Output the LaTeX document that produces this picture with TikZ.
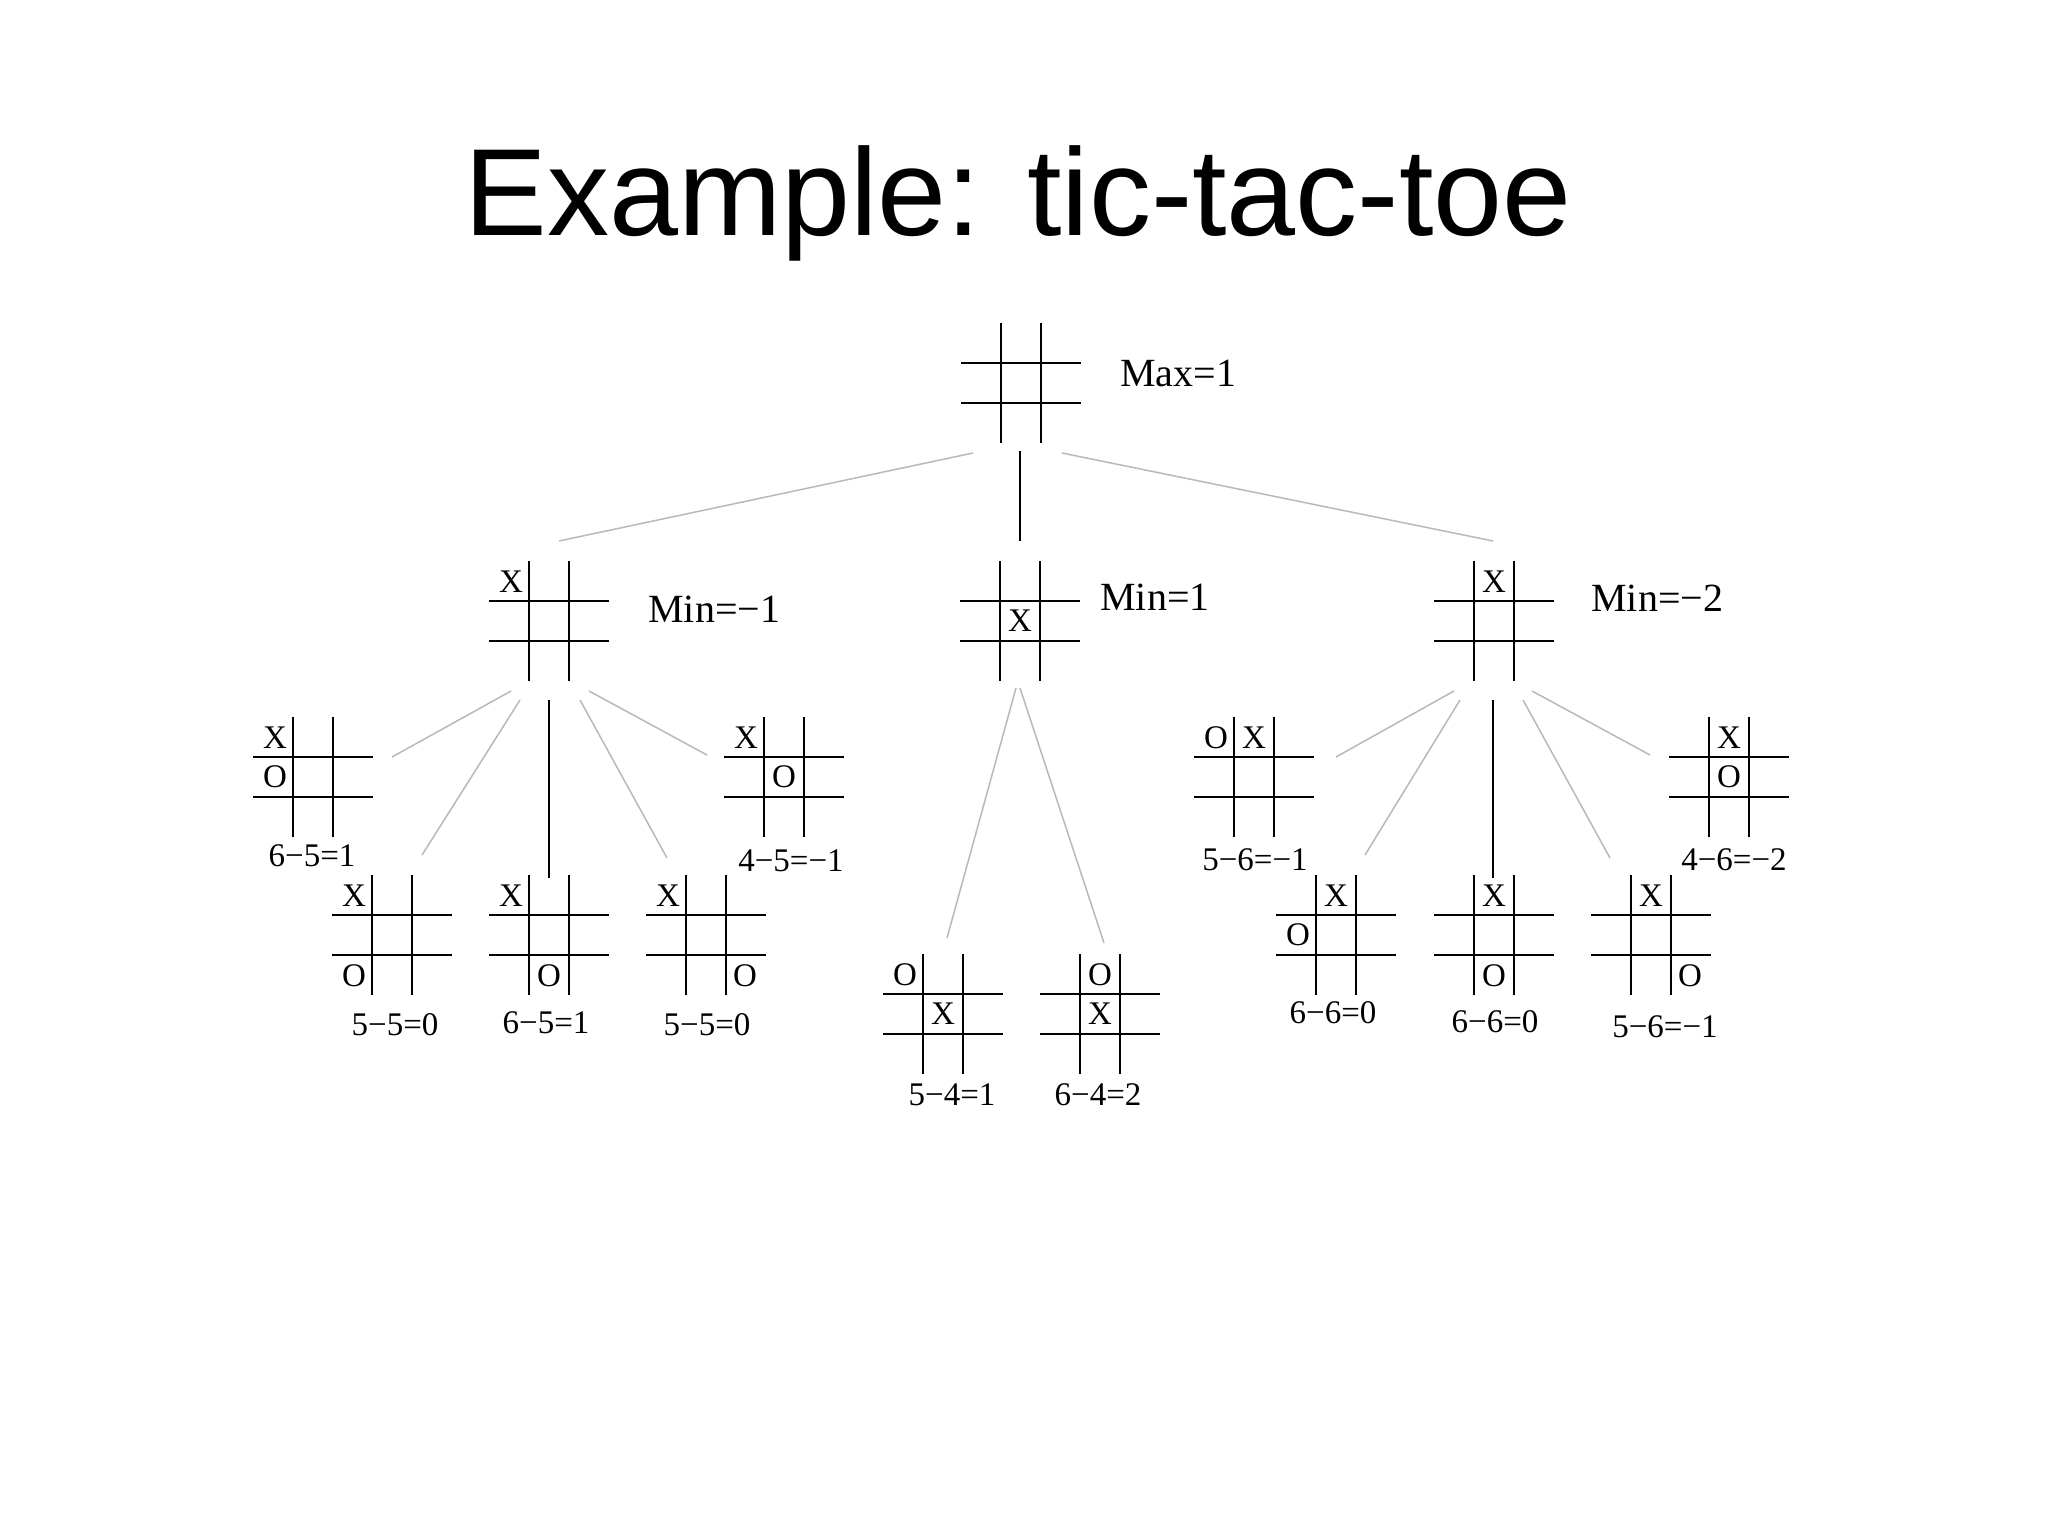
\documentclass[tikz,border=0pt]{standalone}
\usepackage{fontspec}
\setmainfont{Liberation Serif}
\newfontfamily\titlefont{Liberation Sans}
\usetikzlibrary{calc}
\definecolor{lightline}{RGB}{185,185,185}
\tikzset{
  gridline/.style={line width=1.35pt, black},
  board/.style={minimum size=60pt, inner sep=0pt, draw=none},
  markglyph/.style={font=\fontsize{16.5}{18}\selectfont, inner sep=0pt},
  score/.style={font=\fontsize{16.5}{18}\selectfont, inner sep=0pt, anchor=base},
  minmax/.style={font=\fontsize{20}{22}\selectfont, inner sep=0pt, anchor=base west},
  weak/.style={line width=0.75pt, draw=lightline},
  strong/.style={line width=1.2pt, draw=black},
}
\newcommand\tttboard[3]{%
  \node[board] (#1) at (#2,#3) {};
  \draw[gridline] ($(#1)+(-60,-20)$) -- ($(#1)+(60,-20)$)
    ($(#1)+(-60,20)$) -- ($(#1)+(60,20)$)
    ($(#1)+(-20,-60)$) -- ($(#1)+(-20,60)$)
    ($(#1)+(20,-60)$) -- ($(#1)+(20,60)$);
}
% name, board, column (l/c/r), row (t/m/b), letter
\newcommand\tttmark[5]{%
  \node[markglyph] (#1) at ($(#2)+(\csname col#3\endcsname,\csname row#4\endcsname)$) {#5};
}
\def\coll{-38}\def\colc{0}\def\colr{39}
\def\rowt{-39}\def\rowm{0}\def\rowb{41}
\begin{document}
\begin{tikzpicture}[x=0.5pt, y=-0.5pt]
\useasboundingbox (0,0) rectangle (2048,1536);
\fill[white] (0,0) rectangle (2048,1536);

\node[font=\titlefont\fontsize{62}{70}\selectfont, anchor=base, inner sep=0pt] (title) at (1018,235) {Example: tic-tac-toe};

% boards
\tttboard{root}{1021}{383}
\tttboard{L}{549}{621}
\tttboard{M}{1020}{621}
\tttboard{R}{1494}{621}
\tttboard{B1}{313}{777}
\tttboard{B2}{392}{935}
\tttboard{B3}{549}{935}
\tttboard{B4}{706}{935}
\tttboard{B5}{784}{777}
\tttboard{C1}{943}{1014}
\tttboard{C2}{1100}{1014}
\tttboard{D1}{1254}{777}
\tttboard{D2}{1336}{935}
\tttboard{D3}{1494}{935}
\tttboard{D4}{1651}{935}
\tttboard{D5}{1729}{777}

% marks
\tttmark{Lx}{L}{l}{t}{X}
\tttmark{Mx}{M}{c}{m}{X}
\tttmark{Rx}{R}{c}{t}{X}
\tttmark{B1x}{B1}{l}{t}{X}\tttmark{B1o}{B1}{l}{m}{O}
\tttmark{B2x}{B2}{l}{t}{X}\tttmark{B2o}{B2}{l}{b}{O}
\tttmark{B3x}{B3}{l}{t}{X}\tttmark{B3o}{B3}{c}{b}{O}
\tttmark{B4x}{B4}{l}{t}{X}\tttmark{B4o}{B4}{r}{b}{O}
\tttmark{B5x}{B5}{l}{t}{X}\tttmark{B5o}{B5}{c}{m}{O}
\tttmark{C1o}{C1}{l}{t}{O}\tttmark{C1x}{C1}{c}{m}{X}
\tttmark{C2o}{C2}{c}{t}{O}\tttmark{C2x}{C2}{c}{m}{X}
\tttmark{D1o}{D1}{l}{t}{O}\tttmark{D1x}{D1}{c}{t}{X}
\tttmark{D2x}{D2}{c}{t}{X}\tttmark{D2o}{D2}{l}{m}{O}
\tttmark{D3x}{D3}{c}{t}{X}\tttmark{D3o}{D3}{c}{b}{O}
\tttmark{D4x}{D4}{c}{t}{X}\tttmark{D4o}{D4}{r}{b}{O}
\tttmark{D5x}{D5}{c}{t}{X}\tttmark{D5o}{D5}{c}{m}{O}

% max / min values
\node[minmax] (rootv) at (1120,386) {Max=1};
\node[minmax] (Lv) at (648,622) {Min=−1};
\node[minmax] (Mv) at (1100,610) {Min=1};
\node[minmax] (Rv) at (1591,611) {Min=−2};

% scores
\node[score] (B1s) at (312,866) {6−5=1};
\node[score] (B2s) at (395,1035) {5−5=0};
\node[score] (B3s) at (546,1033) {6−5=1};
\node[score] (B4s) at (707,1035) {5−5=0};
\node[score] (B5s) at (791,871) {4−5=−1};
\node[score] (C1s) at (952,1105) {5−4=1};
\node[score] (C2s) at (1098,1105) {6−4=2};
\node[score] (D1s) at (1255,870) {5−6=−1};
\node[score] (D2s) at (1333,1023) {6−6=0};
\node[score] (D3s) at (1495,1032) {6−6=0};
\node[score] (D4s) at (1665,1037) {5−6=−1};
\node[score] (D5s) at (1734,870) {4−6=−2};

% connector end points
\coordinate (rLa) at (973,453);  \coordinate (rLb) at (559,541);
\coordinate (rMa) at (1020,451); \coordinate (rMb) at (1020,541);
\coordinate (rRa) at (1062,453); \coordinate (rRb) at (1493,541);

\coordinate (L1a) at (511,691); \coordinate (L1b) at (392,757);
\coordinate (L2a) at (520,700); \coordinate (L2b) at (422,855);
\coordinate (L3a) at (549,700); \coordinate (L3b) at (549,878);
\coordinate (L4a) at (580,700); \coordinate (L4b) at (667,858);
\coordinate (L5a) at (589,691); \coordinate (L5b) at (707,755);

\coordinate (M1a) at (1016,688); \coordinate (M1b) at (947,938);
\coordinate (M2a) at (1020,688); \coordinate (M2b) at (1104,943);

\coordinate (R1a) at (1454,691); \coordinate (R1b) at (1336,757);
\coordinate (R2a) at (1460,700); \coordinate (R2b) at (1365,855);
\coordinate (R3a) at (1493,700); \coordinate (R3b) at (1493,878);
\coordinate (R4a) at (1523,700); \coordinate (R4b) at (1610,858);
\coordinate (R5a) at (1532,691); \coordinate (R5b) at (1650,755);

% connectors
\draw[weak] (rLa) -- (rLb);
\draw[strong] (rMa) -- (rMb);
\draw[weak] (rRa) -- (rRb);

\draw[weak] (L1a) -- (L1b);
\draw[weak] (L2a) -- (L2b);
\draw[strong] (L3a) -- (L3b);
\draw[weak] (L4a) -- (L4b);
\draw[weak] (L5a) -- (L5b);

\draw[weak] (M1a) -- (M1b);
\draw[weak] (M2a) -- (M2b);

\draw[weak] (R1a) -- (R1b);
\draw[weak] (R2a) -- (R2b);
\draw[strong] (R3a) -- (R3b);
\draw[weak] (R4a) -- (R4b);
\draw[weak] (R5a) -- (R5b);
\end{tikzpicture}
\end{document}
